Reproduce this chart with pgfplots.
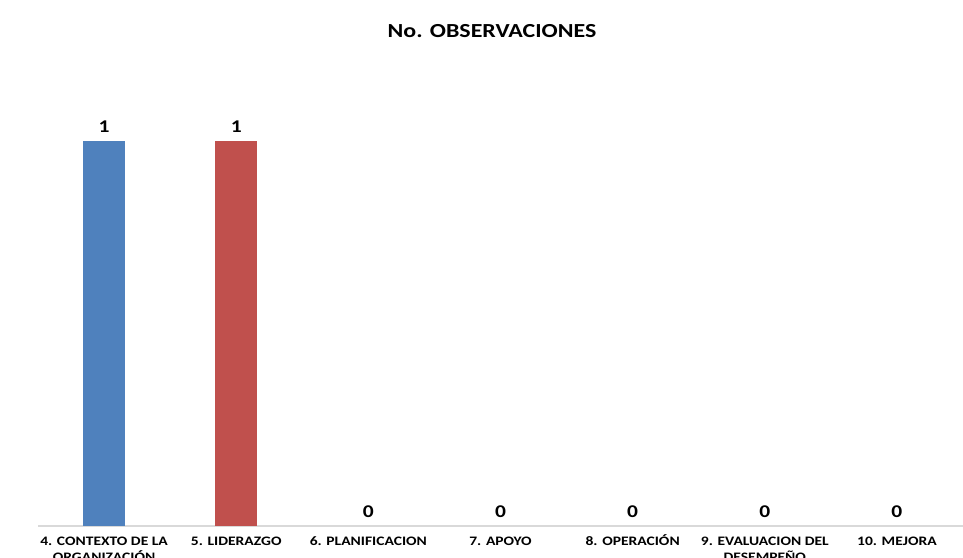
\documentclass[border=0pt]{standalone}
\usepackage{fontspec}
\setmainfont{Carlito}[FakeStretch=1.2]
\usepackage{pgfplots}
\pgfplotsset{compat=1.18}
\definecolor{azul}{HTML}{4F81BD}
\definecolor{rojo}{HTML}{C0504D}
\definecolor{eje}{HTML}{D9D9D9}

\begin{document}
\begin{tikzpicture}[x=1bp,y=1bp]
\path[use as bounding box] (0,0) rectangle (963,558);
\node[font=\bfseries\fontsize{20}{22}\selectfont] at (492,527) {No. OBSERVACIONES};
\begin{axis}[
  at={(38bp,32bp)}, anchor=south west,
  width=925bp, height=462bp, scale only axis,
  xmin=-0.5, xmax=6.5, ymin=0, ymax=1.2,
  axis x line*=bottom, hide y axis,
  x axis line style={draw=eje, line width=1.5bp, -},
  xtick={0,...,6},
  xticklabels={{4. CONTEXTO DE LA\\ORGANIZACIÓN},{5. LIDERAZGO},{6. PLANIFICACION},{7. APOYO},{8. OPERACIÓN},{9. EVALUACION DEL\\DESEMPEÑO},{10. MEJORA}},
  typeset ticklabels with strut,
  major tick length=0pt,
  xticklabel style={font=\bfseries\fontsize{13}{15}\selectfont, align=center, anchor=north, inner sep=0pt, yshift=-8.5bp},
  /pgf/number format/assume math mode=true,
  nodes near coords,
  nodes near coords style={font=\bfseries\fontsize{18}{20}\selectfont, text=black, anchor=south, inner sep=0pt, yshift=8bp},
  every axis plot/.append style={ybar, bar width=42bp, bar shift=0pt},
  clip=false,
]
\addplot[fill=azul, draw=none] coordinates {(0,1)};
\addplot[fill=rojo, draw=none] coordinates {(1,1)};
\addplot[fill=none, draw=none] coordinates {(2,0) (3,0) (4,0) (5,0) (6,0)};
\end{axis}
\end{tikzpicture}
\end{document}
